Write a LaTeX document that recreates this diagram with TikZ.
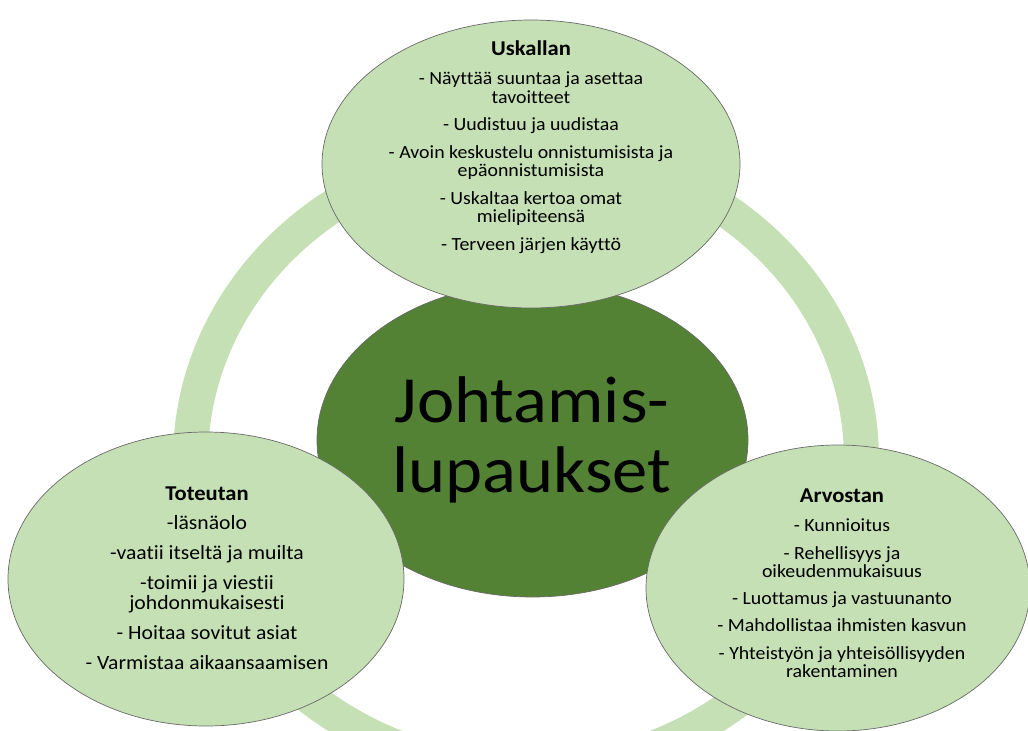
\documentclass[tikz,border=0pt]{standalone}
\usepackage{fontspec}
\setmainfont{Carlito}[FakeStretch=1.07, Ligatures=NoCommon]
\usetikzlibrary{shapes.geometric}
\definecolor{leaf}{HTML}{C5E0B4}
\definecolor{moss}{HTML}{548235}
\definecolor{rim}{HTML}{6A6A6A}
\newcommand\px{0.025cm}
% text sizes
\newcommand\bodyfont{\fontsize{13.2pt}{13.0pt}\selectfont}
\newcommand\bigbodyfont{\fontsize{14.4pt}{14.9pt}\selectfont}
\newcommand\headfont{\fontsize{15pt}{13pt}\selectfont\bfseries}
\newcommand\hubfont{\fontsize{46.9pt}{49.8pt}\selectfont}

\begin{document}
\begin{tikzpicture}[x=0.025cm,y=-0.025cm,
  petal/.style={ellipse, draw=rim, line width=0.5pt, fill=leaf, inner sep=0pt},
  hub/.style={ellipse, draw=rim, line width=0.5pt, fill=moss, inner sep=0pt},
  words/.style={anchor=base, inner sep=0pt, align=center},
]
\useasboundingbox (0,0) rectangle (1028,731);

% background ring
\begin{scope}
  \clip (0,0) rectangle (1028,731);
  \fill[leaf, even odd rule]
    (526,460) ellipse [x radius=353, y radius=327]
    (526,460) ellipse [x radius=318, y radius=294];
\end{scope}

% centre
\node[hub, minimum width=431*\px, minimum height=314*\px] (hubshape) at (532.5,440) {};
\node[words, font=\hubfont] (hubtext) at (532,422)
  {\begin{tabular}[t]{@{}c@{}}Johtamis-\\lupaukset\end{tabular}};

% top petal
\node[petal, minimum width=418*\px, minimum height=288*\px] (topshape) at (531,164) {};
\node[words, font=\bodyfont] (toptext) at (531,55)
  {\begin{tabular}[t]{@{}c@{}}
   {\headfont Uskallan}\\[8.3pt]
   - Näyttää suuntaa ja asettaa\\
   tavoitteet\\[6.6pt]
   - Uudistuu ja uudistaa\\[6.6pt]
   - Avoin keskustelu onnistumisista ja\\
   epäonnistumisista\\[6.6pt]
   - Uskaltaa kertoa omat\\
   mielipiteensä\\[6.6pt]
   - Terveen järjen käyttö
   \end{tabular}};

% left petal
\node[petal, minimum width=396*\px, minimum height=294*\px] (leftshape) at (206,579) {};
\node[words, font=\bigbodyfont] (lefttext) at (207,500)
  {\begin{tabular}[t]{@{}c@{}}
   {\headfont Toteutan}\\[6.4pt]
   -läsnäolo\\[6.1pt]
   -vaatii itseltä ja muilta\\[6.1pt]
   -toimii ja viestii\\
   johdonmukaisesti\\[6.1pt]
   - Hoitaa sovitut asiat\\[6.1pt]
   - Varmistaa aikaansaamisen
   \end{tabular}};

% right petal
\node[petal, minimum width=384*\px, minimum height=286*\px] (rightshape) at (838,588) {};
\node[words, font=\bodyfont] (righttext) at (842,502)
  {\begin{tabular}[t]{@{}c@{}}
   {\headfont Arvostan}\\[8.3pt]
   - Kunnioitus\\[6.3pt]
   - Rehellisyys ja\\
   oikeudenmukaisuus\\[6.3pt]
   - Luottamus ja vastuunanto\\[6.3pt]
   - Mahdollistaa ihmisten kasvun\\[6.3pt]
   - Yhteistyön ja yhteisöllisyyden\\
   rakentaminen
   \end{tabular}};
\end{tikzpicture}
\end{document}
